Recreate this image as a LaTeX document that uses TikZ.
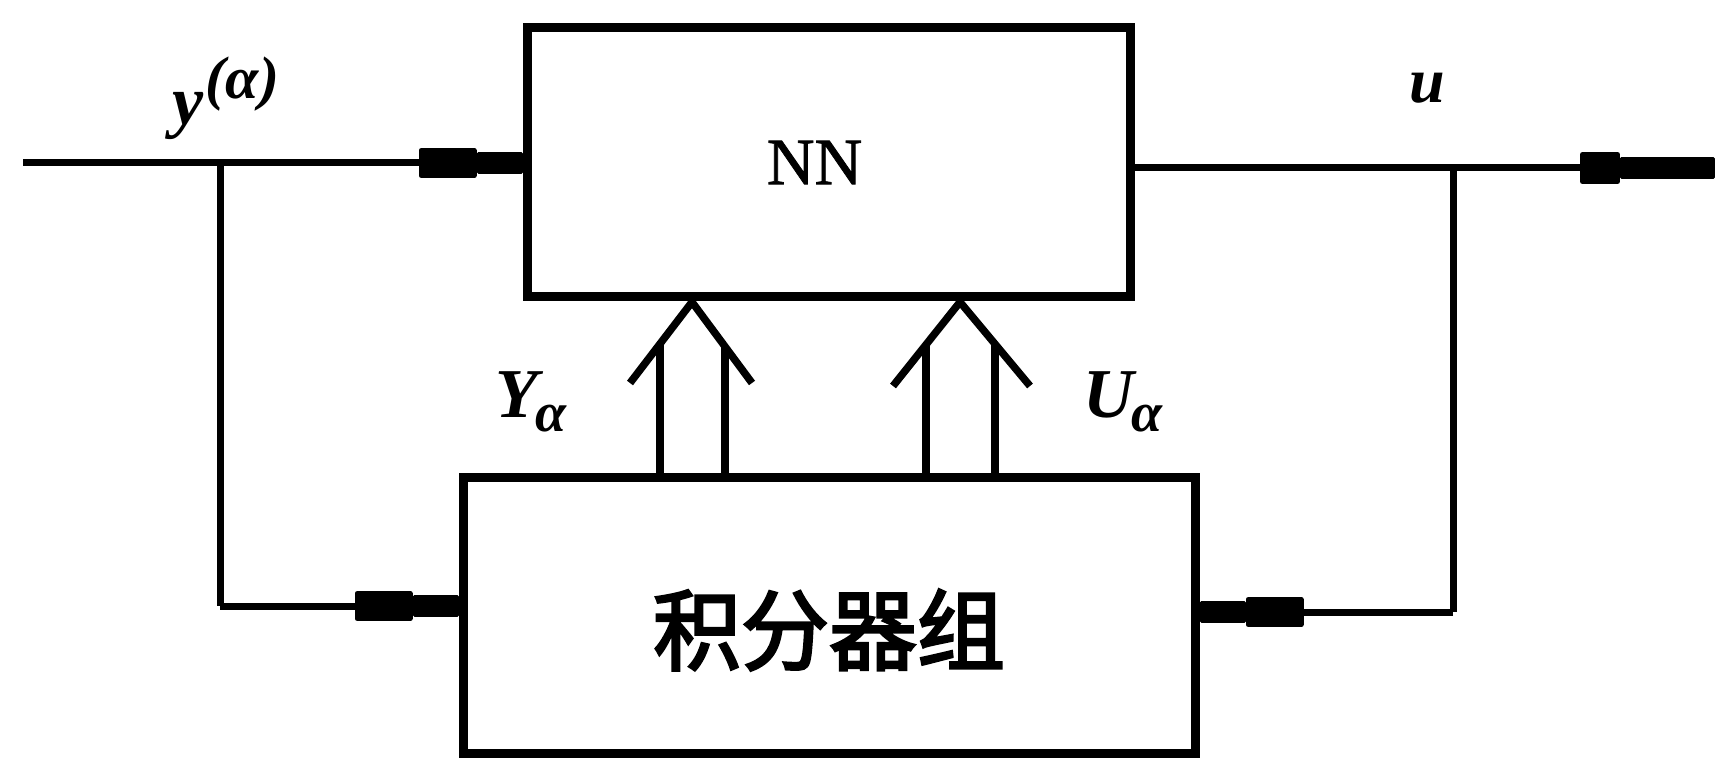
\documentclass[tikz,border=0pt]{standalone}
\usepackage{fontspec}
\setmainfont{Liberation Serif}
\newfontfamily\nnfont[FakeBold=1.2]{Liberation Serif}
\newfontfamily\cjk[FakeBold=3]{Noto Sans CJK SC}
\usetikzlibrary{arrows.meta}
\tikzset{
  box/.style={draw, line width=9pt, inner sep=0pt, outer sep=auto},
  wire/.style={line width=7pt},
  blob/.style={wire, -{Rectangle[length=58pt,width=30pt,line width=5pt,round] Rectangle[length=46pt,width=22pt,line width=3pt,round]}},
  longblob/.style={wire, -{Rectangle[length=40pt,width=32pt,line width=5pt,round] Rectangle[length=95pt,width=22pt,line width=3pt,round]}},
  dbl/.style={line width=7.5pt, line join=round},
  lab/.style={font=\fontsize{70}{70}\selectfont\bfseries\itshape, inner sep=0pt}
}
\begin{document}
\begin{tikzpicture}[x=1pt,y=-1pt]
\useasboundingbox (0,0) rectangle (1715,775);
% boxes
\node[box, minimum width=603pt, minimum height=269pt, font=\fontsize{66}{66}\selectfont\nnfont] (NN) at (828.5,162.5) {\hspace*{-28pt}NN};
\node[box, minimum width=732pt, minimum height=276pt] (INT) at (829,615) {};
\node[inner sep=0pt, font=\fontsize{88}{88}\selectfont\cjk] (INTtxt) at ([yshift=-15pt]INT.center) {积分器组};
% coordinates
\coordinate (in) at (23,163);
\coordinate (jl) at (220,163);
\coordinate (bl) at (220,606);
\coordinate (jr) at (1453,168);
\coordinate (br) at (1453,612);
\coordinate (out) at (1715,168);
% left input
\draw[wire] (in) -- (jl);
\draw[blob] (jl) -- (NN.west |- jl);
\draw[wire] (jl) -- (bl);
\draw[blob] (bl) -- (INT.west |- bl);
% right output
\draw[wire] (NN.east |- jr) -- (jr);
\draw[longblob] (jr) -- (out);
\draw[wire] (jr) -- (br);
\draw[blob] (br) -- (INT.east |- br);
% double arrow Y
\coordinate (ya) at (692,302);
\coordinate (yaL) at (630,383);
\coordinate (yaR) at (752,383);
\coordinate (ya1) at (660,344);
\coordinate (ya2) at (725,346);
\draw[dbl] (yaL) -- (ya) -- (yaR);
\draw[dbl] (INT.north -| ya1) -- (ya1);
\draw[dbl] (INT.north -| ya2) -- (ya2);
% double arrow U
\coordinate (ua) at (960,302);
\coordinate (uaL) at (893,386);
\coordinate (uaR) at (1030,386);
\coordinate (ua1) at (926,345);
\coordinate (ua2) at (995,344);
\draw[dbl] (uaL) -- (ua) -- (uaR);
\draw[dbl] (INT.north -| ua1) -- (ua1);
\draw[dbl] (INT.north -| ua2) -- (ua2);
% labels
\node[lab] (ylab) at (226,98) {y\kern2pt\raisebox{26pt}{\fontsize{60}{60}\selectfont(α)}};
\node[lab, font=\fontsize{64}{64}\selectfont\bfseries\itshape] (ulab) at (1427,88) {u};
\node[lab] (Ylab) at (531,402) {Y\kern-2pt\raisebox{-14pt}{\fontsize{56}{56}\selectfont α}};
\node[lab] (Ulab) at (1123,402) {U\kern-2pt\raisebox{-14pt}{\fontsize{56}{56}\selectfont α}};
\end{tikzpicture}
\end{document}
